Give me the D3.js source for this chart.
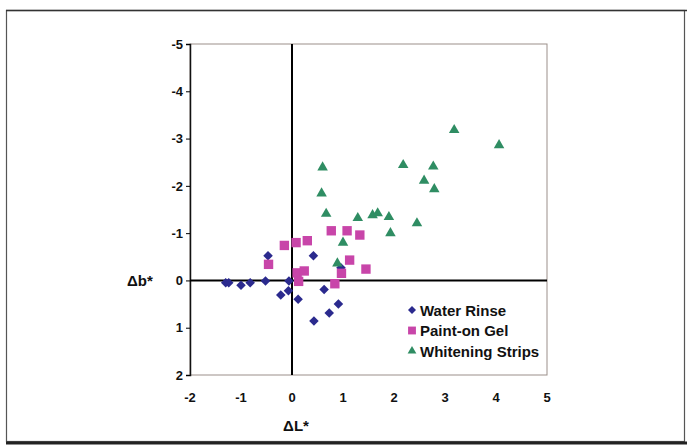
<!DOCTYPE html>
<html>
<head>
<meta charset="utf-8">
<script src="https://cdn.jsdelivr.net/npm/d3@7"></script>
<style>
  body { margin: 0; background: #fff; }
  svg { display: block; font-family: Arial, "Liberation Sans", sans-serif; }
</style>
</head>
<body>
<svg id="chart" width="687" height="447"></svg>
<script>
// values: [ΔL*, Δb*]
const waterRinse = [
    [-1.3, 0.05], [-1.24, 0.05], [-1.0, 0.1], [-0.82, 0.05], [-0.52, 0.01],
    [-0.06, 0.01], [-0.47, -0.52], [0.42, -0.52], [-0.22, 0.31], [-0.07, 0.22],
    [0.12, 0.4], [0.63, 0.19], [0.91, 0.5], [0.73, 0.69], [0.43, 0.86], [0.96, -0.27]
];
const paintOnGel = [
    [-0.15, -0.74], [0.08, -0.8], [0.3, -0.84], [0.77, -1.05], [1.08, -1.05],
    [1.33, -0.96], [-0.46, -0.34], [0.1, -0.16], [0.24, -0.2], [1.13, -0.43],
    [1.45, -0.24], [0.97, -0.15], [0.84, 0.07], [0.13, 0.02]
];
const whiteningStrips = [
    [3.18, -3.18], [4.06, -2.86], [0.6, -2.39], [2.18, -2.44], [2.77, -2.41],
    [2.59, -2.11], [2.79, -1.93], [0.58, -1.84], [0.67, -1.41], [1.29, -1.32],
    [1.58, -1.38], [1.68, -1.42], [1.9, -1.34], [2.45, -1.21], [1.93, -1.0],
    [1.0, -0.8], [0.89, -0.36]
];
const xTicks = [-2, -1, 0, 1, 2, 3, 4, 5];
const yTicks = [-5, -4, -3, -2, -1, 0, 1, 2];

const series = [
    {name: "Water Rinse", data: waterRinse, symbol: d3.symbolDiamond2, size: 58, color: "#2b2a8e"},
    {name: "Paint-on Gel", data: paintOnGel, symbol: d3.symbolSquare, size: 88, color: "#c845a9"},
    {name: "Whitening Strips", data: whiteningStrips, symbol: d3.symbolTriangle, size: 48, color: "#2f8d63"}
];

const svg = d3.select("#chart");

// outer frame
svg.append("rect")
    .attr("x", 6.5).attr("y", 10.5).attr("width", 678).attr("height", 431)
    .attr("fill", "#fff").attr("stroke", "#555").attr("stroke-width", 1.2);
svg.append("line")
    .attr("x1", 6).attr("x2", 687).attr("y1", 443).attr("y2", 443)
    .attr("stroke", "#222").attr("stroke-width", 3);
svg.append("line")
    .attr("x1", 6).attr("x2", 687).attr("y1", 10.5).attr("y2", 10.5)
    .attr("stroke", "#333").attr("stroke-width", 1.5);

const x = d3.scaleLinear().domain([-2, 5]).range([190, 547]);
const y = d3.scaleLinear().domain([-5, 2]).range([44, 375]);

// plot area border
svg.append("rect")
    .attr("x", x(-2)).attr("y", y(-5))
    .attr("width", x(5) - x(-2)).attr("height", y(2) - y(-5))
    .attr("fill", "none").attr("stroke", "#9b8f8a").attr("stroke-width", 1);

// left value axis
const yAxis = svg.append("g")
    .attr("transform", `translate(${x(-2)},0)`)
    .call(d3.axisLeft(y).tickValues(yTicks).tickSize(4).tickPadding(3).tickFormat(d => String(d)));
yAxis.select(".domain").attr("stroke", "#111").attr("stroke-width", 1.5);
yAxis.selectAll("text").attr("font-size", 13).attr("font-weight", "bold").attr("fill", "#111");

// x tick labels below the plot
svg.append("g").selectAll("text")
    .data(xTicks)
    .join("text")
    .attr("x", d => x(d))
    .attr("y", 402)
    .attr("text-anchor", "middle")
    .attr("font-size", 13).attr("font-weight", "bold").attr("fill", "#111")
    .text(d => String(d));

// zero lines
svg.append("line")
    .attr("x1", x(0)).attr("x2", x(0)).attr("y1", y(-5)).attr("y2", y(2))
    .attr("stroke", "#000").attr("stroke-width", 2);
svg.append("line")
    .attr("x1", x(-2)).attr("x2", x(5)).attr("y1", y(0)).attr("y2", y(0))
    .attr("stroke", "#000").attr("stroke-width", 2);

// axis titles
svg.append("text")
    .attr("x", 127).attr("y", y(0) + 6)
    .attr("font-size", 15).attr("font-weight", "bold").attr("fill", "#111")
    .text("Δb*");
svg.append("text")
    .attr("x", x(0) + 4).attr("y", 431)
    .attr("text-anchor", "middle")
    .attr("font-size", 15).attr("font-weight", "bold").attr("fill", "#111")
    .text("ΔL*");

// points
series.forEach(s => {
    svg.append("g").selectAll("path")
        .data(s.data)
        .join("path")
        .attr("transform", d => `translate(${x(d[0])},${y(d[1])})`)
        .attr("d", d3.symbol().type(s.symbol).size(s.size))
        .attr("fill", s.color);
});

// legend
const legend = svg.append("g").attr("transform", "translate(406,310)");
legend.append("rect")
    .attr("x", -4).attr("y", -13).attr("width", 140).attr("height", 62)
    .attr("fill", "#fff");
series.forEach((s, i) => {
    const row = legend.append("g").attr("transform", `translate(0,${i * 20.5})`);
    row.append("path")
        .attr("transform", "translate(6,0)")
        .attr("d", d3.symbol().type(s.symbol).size(s.size * 0.7))
        .attr("fill", s.color);
    row.append("text")
        .attr("x", 14).attr("y", 5.5)
        .attr("font-size", 15).attr("font-weight", "bold").attr("fill", "#111")
        .text(s.name);
});
</script>
</body>
</html>
